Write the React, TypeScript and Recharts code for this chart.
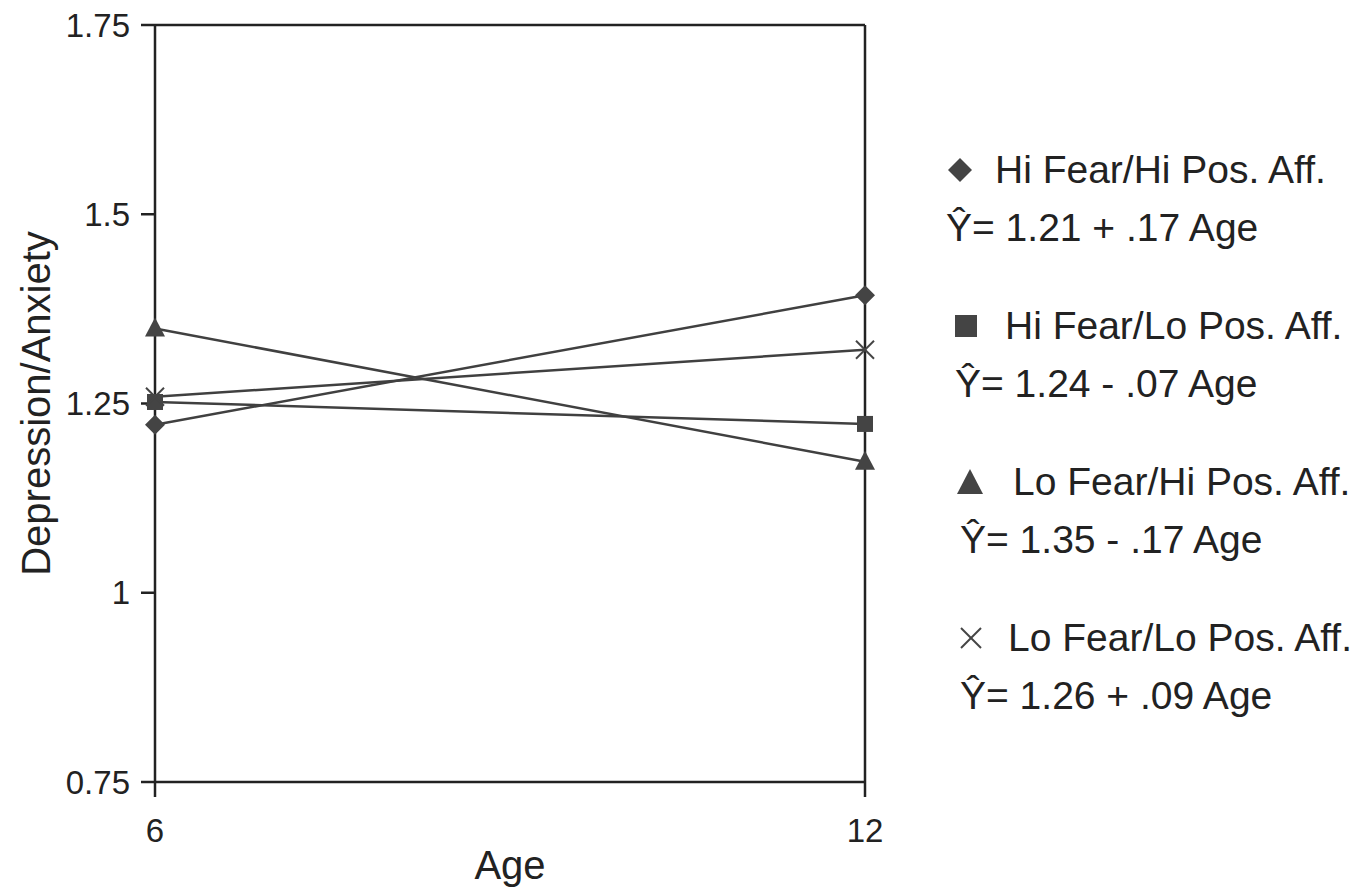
import { Line, LineChart, ReferenceLine, XAxis, YAxis } from 'recharts';

const AGES = [6, 12];
const HI_FEAR_HI_POS = [1.222, 1.393];
const HI_FEAR_LO_POS = [1.252, 1.223];
const LO_FEAR_HI_POS = [1.349, 1.173];
const LO_FEAR_LO_POS = [1.259, 1.321];

const SERIES_NAMES = [
    'Hi Fear/Hi Pos. Aff.',
    'Hi Fear/Lo Pos. Aff.',
    'Lo Fear/Hi Pos. Aff.',
    'Lo Fear/Lo Pos. Aff.',
];
const EQUATIONS = [
    'Ŷ= 1.21 + .17 Age',
    'Ŷ= 1.24 - .07 Age',
    'Ŷ= 1.35 - .17 Age',
    'Ŷ= 1.26 + .09 Age',
];

const Y_TICKS = [0.75, 1, 1.25, 1.5, 1.75];
const X_TICKS = [6, 12];

const data = AGES.map((age, i) => ({
    age,
    hiHi: HI_FEAR_HI_POS[i],
    hiLo: HI_FEAR_LO_POS[i],
    loHi: LO_FEAR_HI_POS[i],
    loLo: LO_FEAR_LO_POS[i],
}));

const INK = '#222';
const LINE = '#404040';
const MARK = '#444';
const FONT = '"Liberation Sans", Arial, Helvetica, sans-serif';

// markers on the chart
const diamondDot = (props: any) => {
    const { cx, cy, index } = props;
    const r = 10;
    return (
        <polygon
            key={`dia-${index}`}
            points={`${cx},${cy - r} ${cx + r},${cy} ${cx},${cy + r} ${cx - r},${cy}`}
            fill={MARK}
        />
    );
};

const squareDot = (props: any) => {
    const { cx, cy, index } = props;
    const s = 8;
    return <rect key={`sq-${index}`} x={cx - s} y={cy - s} width={s * 2} height={s * 2} fill={MARK} />;
};

const triangleDot = (props: any) => {
    const { cx, cy, index } = props;
    return (
        <polygon
            key={`tri-${index}`}
            points={`${cx},${cy - 11} ${cx + 10},${cy + 8} ${cx - 10},${cy + 8}`}
            fill={MARK}
        />
    );
};

const crossDot = (props: any) => {
    const { cx, cy, index } = props;
    const r = 9;
    return (
        <g key={`x-${index}`} stroke={MARK} strokeWidth={2}>
            <line x1={cx - r} y1={cy - r} x2={cx + r} y2={cy + r} />
            <line x1={cx - r} y1={cy + r} x2={cx + r} y2={cy - r} />
        </g>
    );
};

// legend icons
function LegendIcon({ kind }: { kind: number }) {
    return (
        <svg width={28} height={28} viewBox="0 0 28 28" style={{ display: 'block' }}>
            {kind === 0 && <polygon points="14,2 26,14 14,26 2,14" fill={MARK} />}
            {kind === 1 && <rect x={3} y={3} width={22} height={22} fill={MARK} />}
            {kind === 2 && <polygon points="14,1 27,26 1,26" fill={MARK} />}
            {kind === 3 && (
                <g stroke={MARK} strokeWidth={2}>
                    <line x1={4} y1={4} x2={24} y2={24} />
                    <line x1={4} y1={24} x2={24} y2={4} />
                </g>
            )}
        </svg>
    );
}

// horizontal offsets of each legend row (icon, name, equation)
const ICON_LEFT = [0, 6, 10, 11];
const NAME_LEFT = [49, 59, 67, 62];
const EQ_LEFT = [0, 9, 14, 14];

function SideLegend() {
    return (
        <div style={{ position: 'absolute', left: 946, top: 141, fontFamily: FONT, color: INK, fontSize: 39 }}>
            {SERIES_NAMES.map((name, i) => (
                <div key={name} style={{ position: 'relative', height: 156, width: 420 }}>
                    <div style={{ position: 'absolute', left: ICON_LEFT[i], top: 15 }}>
                        <LegendIcon kind={i} />
                    </div>
                    <div style={{ position: 'absolute', left: NAME_LEFT[i], top: 0, lineHeight: '58px', whiteSpace: 'nowrap' }}>
                        {name}
                    </div>
                    <div style={{ position: 'absolute', left: EQ_LEFT[i], top: 58, lineHeight: '58px', whiteSpace: 'nowrap' }}>
                        {EQUATIONS[i]}
                    </div>
                </div>
            ))}
        </div>
    );
}

const YTitle = (props: any) => {
    const { viewBox } = props;
    const x = viewBox.x + 36;
    const y = viewBox.y + viewBox.height / 2;
    return (
        <text
            x={x}
            y={y}
            transform={`rotate(-90, ${x}, ${y})`}
            textAnchor="middle"
            dominantBaseline="central"
            fontSize={40}
            fill={INK}
        >
            Depression/Anxiety
        </text>
    );
};

export default function App() {
    return (
        <div style={{ position: 'absolute', left: 0, top: 0, width: 1371, height: 890, fontFamily: FONT, background: '#fff' }}>
            <LineChart
                width={1371}
                height={890}
                data={data}
                margin={{ top: 25, right: 506, bottom: 0, left: 0 }}
            >
                <XAxis
                    dataKey="age"
                    type="number"
                    domain={[6, 12]}
                    ticks={X_TICKS}
                    height={108}
                    tickSize={15}
                    tickMargin={22}
                    fontSize={33}
                    tick={{ fill: INK, fontSize: 33 }}
                    axisLine={{ stroke: INK, strokeWidth: 2.5 }}
                    tickLine={{ stroke: INK, strokeWidth: 2.5 }}
                    label={{ value: 'Age', position: 'insideBottom', offset: 11, fill: INK, fontSize: 40 }}
                />
                <YAxis
                    type="number"
                    domain={[0.75, 1.75]}
                    ticks={Y_TICKS}
                    width={155}
                    tickSize={14}
                    tickMargin={11}
                    fontSize={33}
                    tick={{ fill: INK, fontSize: 33 }}
                    axisLine={{ stroke: INK, strokeWidth: 2.5 }}
                    tickLine={{ stroke: INK, strokeWidth: 2.5 }}
                    label={<YTitle />}
                />
                <ReferenceLine y={1.75} stroke={INK} strokeWidth={2.5} />
                <ReferenceLine x={12} stroke={INK} strokeWidth={2.5} />
                <Line dataKey="hiHi" type="linear" stroke={LINE} strokeWidth={2.5} dot={diamondDot} isAnimationActive={false} />
                <Line dataKey="hiLo" type="linear" stroke={LINE} strokeWidth={2.5} dot={squareDot} isAnimationActive={false} />
                <Line dataKey="loHi" type="linear" stroke={LINE} strokeWidth={2.5} dot={triangleDot} isAnimationActive={false} />
                <Line dataKey="loLo" type="linear" stroke={LINE} strokeWidth={2.5} dot={crossDot} isAnimationActive={false} />
            </LineChart>
            <SideLegend />
        </div>
    );
}
